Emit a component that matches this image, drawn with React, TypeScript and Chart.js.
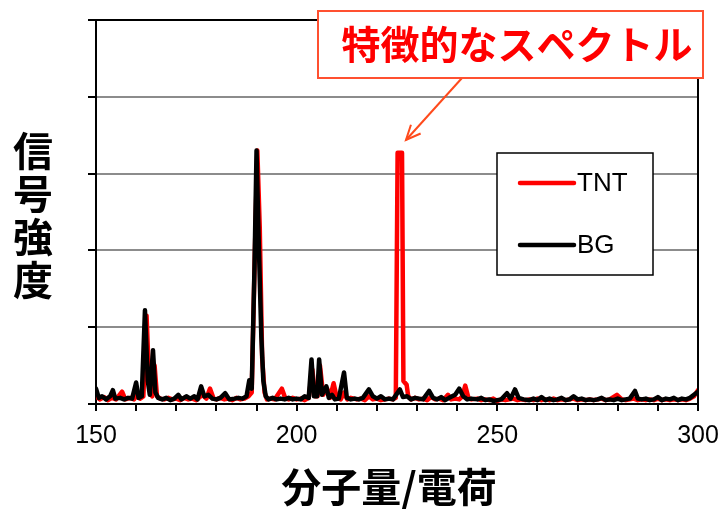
import React, { useEffect, useRef } from "react";
import { Chart, registerables } from "chart.js";

Chart.register(...registerables);

const X_MIN = 150;
const X_MAX = 300;
const X_LABELS = [150, 200, 250, 300];
const Y_MIN = 0;
const Y_MAX = 5;

const TNT_LABEL = "TNT";
const BG_LABEL = "BG";
const Y_TITLE = ["信", "号", "強", "度"];
const X_TITLE = "分子量/電荷";
const NOTE_TEXT = "特徴的なスペクトル";

const BG_MZ = [
  150, 150.7, 151.5, 152.5, 153.5, 154.2, 154.8, 156, 157, 158, 159, 160, 160.6, 161.4, 162.2, 162.9, 163.4, 164.2, 164.8,
  165.5, 166.5, 167.5, 168.5, 169.5, 170.5, 171.3, 172.5, 173.5, 174.5, 175.3, 176.2, 177, 178, 179, 180, 181, 182.2,
  183.2, 184.5, 185.5, 186.5, 187.5, 188.2, 188.8, 189.5, 190, 190.5, 191.2, 191.7, 192.3, 193, 194, 195, 196, 197, 198,
  199, 200, 201, 202, 203, 203.7, 204.3, 205.1, 205.6, 206.3, 207.4, 208, 208.8, 209.5, 210.5, 211.8, 212.5, 213.5,
  214.5, 215.5, 216.5, 218, 219, 220, 221, 222, 223, 224, 225.7, 226.5, 227.5, 228.5, 229.5, 230.5, 231.5, 233, 234,
  235, 236, 237, 238, 239.5, 240.5, 241.5, 242.5, 243.5, 245, 246, 247, 248, 249, 250, 251, 252.4, 253.3, 254.4, 255.3,
  256.5, 258, 259, 260, 261, 262, 263, 264, 265, 266, 267, 268, 269, 270, 271, 272, 273, 274, 275, 276, 277, 278, 279,
  280, 281, 282, 283, 284.3, 285, 286, 287, 288, 289, 290, 291, 292, 293, 294, 295, 296, 297, 298, 299, 300,
];
const BG_INT = [
  0.2, 0.08, 0.1, 0.06, 0.1, 0.18, 0.07, 0.08, 0.06, 0.08, 0.07, 0.28, 0.08, 0.1, 1.22, 0.3, 0.12, 0.7, 0.15,
  0.08, 0.06, 0.08, 0.05, 0.07, 0.12, 0.06, 0.1, 0.07, 0.1, 0.06, 0.23, 0.1, 0.12, 0.07, 0.06, 0.08, 0.14,
  0.06, 0.07, 0.08, 0.07, 0.1, 0.31, 0.2, 1.8, 3.3, 2.2, 0.87, 0.3, 0.1, 0.06, 0.08, 0.06, 0.07, 0.06, 0.08,
  0.06, 0.07, 0.06, 0.1, 0.08, 0.58, 0.1, 0.1, 0.58, 0.12, 0.23, 0.08, 0.12, 0.06, 0.07, 0.41, 0.08, 0.06,
  0.07, 0.06, 0.08, 0.19, 0.1, 0.07, 0.1, 0.06, 0.07, 0.06, 0.19, 0.09, 0.1, 0.06, 0.08, 0.07, 0.06, 0.17, 0.08,
  0.06, 0.09, 0.05, 0.08, 0.12, 0.2, 0.1, 0.06, 0.07, 0.06, 0.08, 0.05, 0.06, 0.04, 0.05, 0.06, 0.14, 0.07, 0.19, 0.08,
  0.06, 0.05, 0.07, 0.05, 0.09, 0.05, 0.07, 0.05, 0.06, 0.08, 0.05, 0.06, 0.1, 0.06, 0.07, 0.05, 0.06, 0.05, 0.06, 0.08, 0.05, 0.06, 0.05,
  0.07, 0.05, 0.06, 0.07, 0.17, 0.07, 0.06, 0.07, 0.05, 0.06, 0.09, 0.05, 0.07, 0.06, 0.08, 0.05, 0.07, 0.06, 0.08, 0.12, 0.16,
];

const TNT_MZ = [
  150, 151, 152, 153, 154, 155, 156.5, 157.3, 158.5, 159.5, 160.2, 161, 161.8, 162.6, 163.3, 164, 164.6, 165.2, 166,
  167, 168, 169, 170, 171, 172, 173, 174, 175, 176.5, 177.5, 178.4, 179.3, 180, 181, 182, 183, 184, 185, 186, 187, 188,
  188.8, 189.6, 190.2, 190.8, 191.4, 192, 192.6, 193.5, 194.5, 196.3, 197.2, 198, 199, 200, 201, 202, 203, 203.9, 204.6,
  205.2, 205.8, 206.6, 207.6, 208.3, 209.2, 210, 211, 211.8, 212.6, 213.5, 215, 216, 217, 218, 219, 220, 221, 222, 223,
  224, 224.7, 225.15, 226.25, 226.6, 227.4, 227.8, 228.5, 229.5, 230.5, 231.5, 232.5, 233.5, 234.5, 235.5, 236.5, 237.7,
  238.5, 239.5, 240.5, 241.3, 242, 242.8, 243.5, 245, 246, 247, 248, 249, 250, 251, 252, 253, 254, 255, 256, 257, 258,
  259, 260, 261, 262, 263, 264, 265, 266, 267, 268, 269, 270, 271, 272, 273, 274, 275, 276, 277, 278, 279.8, 281, 282,
  283, 284, 285, 286, 287, 288, 289, 290, 291, 292, 293, 294, 295, 296, 297, 298, 299, 300,
];
const TNT_INT = [
  0.1, 0.06, 0.09, 0.05, 0.08, 0.06, 0.16, 0.06, 0.08, 0.06, 0.12, 0.07, 0.1, 1.15, 0.2, 0.1, 0.5, 0.1, 0.07,
  0.06, 0.08, 0.06, 0.07, 0.05, 0.08, 0.06, 0.07, 0.05, 0.12, 0.07, 0.2, 0.07, 0.06, 0.08, 0.06, 0.07, 0.05, 0.08, 0.06, 0.07, 0.1,
  0.15, 2.0, 3.3, 2.3, 0.6, 0.15, 0.06, 0.07, 0.06, 0.2, 0.07, 0.06, 0.08, 0.06, 0.07, 0.05, 0.08, 0.45, 0.1,
  0.1, 0.5, 0.12, 0.2, 0.08, 0.27, 0.08, 0.06, 0.15, 0.06, 0.08, 0.06, 0.07, 0.05, 0.1, 0.06, 0.07, 0.05, 0.06, 0.07,
  0.06, 0.08, 3.27, 3.27, 0.3, 0.25, 0.1, 0.06, 0.08, 0.06, 0.07, 0.05, 0.09, 0.06, 0.07, 0.05, 0.12,
  0.06, 0.07, 0.06, 0.1, 0.24, 0.08, 0.06, 0.07, 0.05, 0.06, 0.05, 0.07, 0.04, 0.06, 0.05, 0.06, 0.07, 0.05, 0.06, 0.05, 0.06,
  0.05, 0.07, 0.05, 0.06, 0.05, 0.07, 0.05, 0.06, 0.05, 0.06, 0.07, 0.05, 0.06, 0.05, 0.06, 0.05, 0.06, 0.07, 0.05, 0.06, 0.12, 0.06, 0.05,
  0.06, 0.07, 0.05, 0.06, 0.05, 0.06, 0.05, 0.07, 0.05, 0.06, 0.05, 0.06, 0.05, 0.06, 0.05, 0.07, 0.1, 0.18,
];

const RED = "#ff0000";
const BLACK = "#000000";
const NOTE_BORDER = "#ff5030";
const ARROW = "#ff4a1c";
const GRID = "#8c8c8c";
const CJK = '"Noto Sans CJK JP", "Noto Sans CJK SC", sans-serif';
const LATIN = '"Liberation Sans", Arial, sans-serif';

function pts(xs: number[], ys: number[]) {
  return xs.map((x, i) => ({ x, y: ys[i] }));
}

const overlayPlugin = {
  id: "overlay",
  afterDraw(chart: any) {
    const ctx = chart.ctx as CanvasRenderingContext2D;
    const a = chart.chartArea;
    ctx.save();
    ctx.strokeStyle = BLACK;
    ctx.lineWidth = 2;
    ctx.beginPath();
    ctx.moveTo(a.left, a.top);
    ctx.lineTo(a.right, a.top);
    ctx.lineTo(a.right, a.bottom);
    ctx.stroke();

    const ds = chart.data.datasets;
    const lx = 497, ly = 153, lw = 156, lh = 122;
    ctx.fillStyle = "#fff";
    ctx.fillRect(lx, ly, lw, lh);
    ctx.strokeStyle = BLACK;
    ctx.lineWidth = 1.5;
    ctx.strokeRect(lx, ly, lw, lh);
    const order = [ds.find((d: any) => d.label === TNT_LABEL), ds.find((d: any) => d.label === BG_LABEL)];
    const rows = [183, 245];
    order.forEach((d: any, i: number) => {
      ctx.strokeStyle = d.borderColor;
      ctx.lineWidth = 4.5;
      ctx.lineCap = "round";
      ctx.beginPath();
      ctx.moveTo(520, rows[i]);
      ctx.lineTo(574, rows[i]);
      ctx.stroke();
      ctx.fillStyle = BLACK;
      ctx.font = `26px ${LATIN}`;
      ctx.textAlign = "left";
      ctx.textBaseline = "middle";
      ctx.fillText(d.label, 577, rows[i] + 1);
    });

    ctx.strokeStyle = ARROW;
    ctx.lineWidth = 2;
    ctx.lineCap = "butt";
    const tx = 406, ty = 140, sx = 462, sy = 78;
    ctx.beginPath();
    ctx.moveTo(sx, sy);
    ctx.lineTo(tx, ty);
    ctx.stroke();
    const ang = Math.atan2(sy - ty, sx - tx);
    const hl = 16;
    ctx.beginPath();
    ctx.moveTo(tx + hl * Math.cos(ang + 0.42), ty + hl * Math.sin(ang + 0.42));
    ctx.lineTo(tx, ty);
    ctx.lineTo(tx + hl * Math.cos(ang - 0.42), ty + hl * Math.sin(ang - 0.42));
    ctx.stroke();

    ctx.fillStyle = "#fff";
    ctx.fillRect(318, 11, 385, 67);
    ctx.strokeStyle = NOTE_BORDER;
    ctx.lineWidth = 2;
    ctx.strokeRect(318, 11, 385, 67);
    ctx.fillStyle = RED;
    ctx.font = `bold 39px ${CJK}`;
    ctx.textAlign = "center";
    ctx.textBaseline = "middle";
    ctx.fillText(NOTE_TEXT, 517, 44);

    ctx.fillStyle = BLACK;
    ctx.font = `bold 40px ${CJK}`;
    Y_TITLE.forEach((c, i) => {
      ctx.fillText(c, 33, 151 + i * 43);
    });

    ctx.fillText(X_TITLE, 389, 487);
    ctx.restore();
  },
};

export default function App() {
  const ref = useRef<HTMLCanvasElement | null>(null);
  useEffect(() => {
    if (!ref.current) return;
    const lineStyle = {
      borderWidth: 4.5,
      pointRadius: 0,
      tension: 0,
      borderJoinStyle: "round",
      borderCapStyle: "round",
    };
    const chart = new Chart(ref.current, {
      type: "line",
      data: {
        datasets: [
          { label: TNT_LABEL, data: pts(TNT_MZ, TNT_INT), borderColor: RED, backgroundColor: RED, order: 2, ...lineStyle },
          { label: BG_LABEL, data: pts(BG_MZ, BG_INT), borderColor: BLACK, backgroundColor: BLACK, order: 1, ...lineStyle },
        ],
      },
      options: {
        animation: false,
        responsive: true,
        maintainAspectRatio: false,
        layout: { padding: { top: 20, right: 23, left: 0, bottom: 0 } },
        plugins: { legend: { display: false }, tooltip: { enabled: false } },
        scales: {
          x: {
            type: "linear",
            min: X_MIN,
            max: X_MAX,
            afterFit: (s: any) => {
              s.height = 105;
              s.paddingLeft = 0;
              s.paddingRight = 0;
            },
            ticks: {
              stepSize: 10,
              autoSkip: false,
              maxRotation: 0,
              padding: 10,
              color: BLACK,
              font: { family: LATIN, size: 25 },
              callback: (v: any) => (X_LABELS.includes(Number(v)) ? String(v) : ""),
            },
            grid: { drawOnChartArea: false, drawTicks: true, tickLength: 7, tickColor: BLACK, lineWidth: 2 },
            border: { color: BLACK, width: 2 },
          },
          y: {
            type: "linear",
            min: Y_MIN,
            max: Y_MAX,
            afterFit: (s: any) => {
              s.width = 96;
            },
            ticks: { stepSize: 1, display: false },
            grid: {
              color: (c: any) => (c.tick && c.tick.value === Y_MAX ? BLACK : GRID),
              lineWidth: 2,
              drawTicks: true,
              tickLength: 8,
              tickColor: BLACK,
            },
            border: { color: BLACK, width: 2 },
          },
        },
      },
      plugins: [overlayPlugin],
    } as any);
    return () => chart.destroy();
  }, []);
  return (
    <div style={{ position: "absolute", left: 0, top: 0, width: 721, height: 509, background: "#fff" }}>
      <canvas ref={ref} />
    </div>
  );
}
